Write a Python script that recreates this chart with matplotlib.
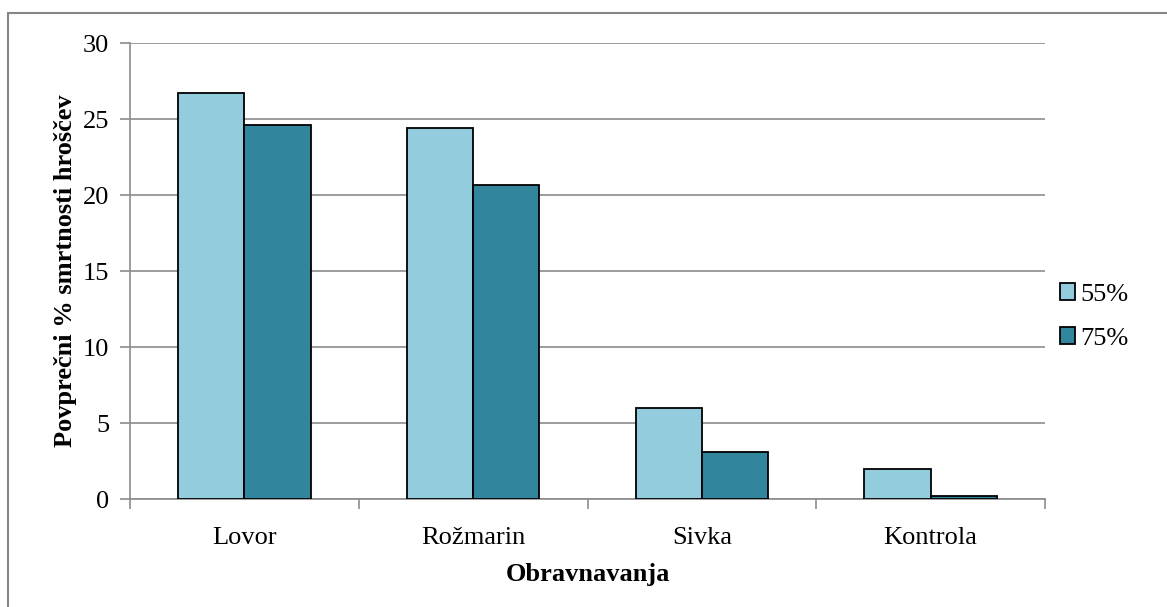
import matplotlib.pyplot as plt
import numpy as np
from matplotlib.patches import Rectangle

plt.rcParams['font.family'] = ['Liberation Serif', 'DejaVu Serif']

kategorije = ['Lovor', 'Rožmarin', 'Sivka', 'Kontrola']
vlaga_55 = [26.7, 24.4, 6.0, 2.0]
vlaga_75 = [24.6, 20.65, 3.08, 0.22]
serije = ['55%', '75%']
barve = ['#93CDDD', '#31859C']

fig = plt.figure(figsize=(11.67, 6.07), dpi=100)
ax = fig.add_axes([130 / 1167, 1 - 499 / 607, 915 / 1167, 456 / 607])

# okvir grafikona
fig.patches.append(Rectangle((8 / 1167, -0.1), 1.2, 1 - 13 / 607 + 0.1,
                             transform=fig.transFigure, fill=False,
                             edgecolor='#878787', lw=1.5, zorder=0))

x = np.arange(len(kategorije))
w = 0.29
ax.bar(x - w / 2, vlaga_55, w, color=barve[0], edgecolor='black', lw=1.3,
       label=serije[0], zorder=3)
ax.bar(x + w / 2, vlaga_75, w, color=barve[1], edgecolor='black', lw=1.3,
       label=serije[1], zorder=3)

ax.set_xlim(-0.5, len(kategorije) - 0.5)
ax.set_ylim(0, 30)
ax.set_yticks(range(0, 31, 5))
ax.yaxis.grid(True, color='#8c8c8c', lw=1.2)
ax.set_axisbelow(True)

ax.set_xticks(x)
ax.set_xticklabels(kategorije)
ax.set_xticks(np.arange(-0.5, len(kategorije), 1), minor=True)
ax.tick_params(axis='x', which='major', length=0, pad=20, labelsize=19)
ax.tick_params(axis='x', which='minor', length=7, width=1.2, color='#8c8c8c')
ax.tick_params(axis='y', length=7, width=1.2, color='#8c8c8c', pad=8,
               labelsize=19)

for s in ['top', 'right']:
    ax.spines[s].set_visible(False)
for s in ['left', 'bottom']:
    ax.spines[s].set_color('#8c8c8c')
    ax.spines[s].set_linewidth(1.2)

ax.set_xlabel('Obravnavanja', fontsize=19, fontweight='bold', labelpad=10)
ax.set_ylabel('Povprečni % smrtnosti hroščev', fontsize=19,
              fontweight='bold', labelpad=4)

leg = ax.legend(loc='center left', bbox_to_anchor=(0.99, 0.40), frameon=False,
                fontsize=19, handlelength=0.6, handleheight=0.6,
                handletextpad=0.2, labelspacing=0.8)

fig.savefig('out.png', dpi=100)
